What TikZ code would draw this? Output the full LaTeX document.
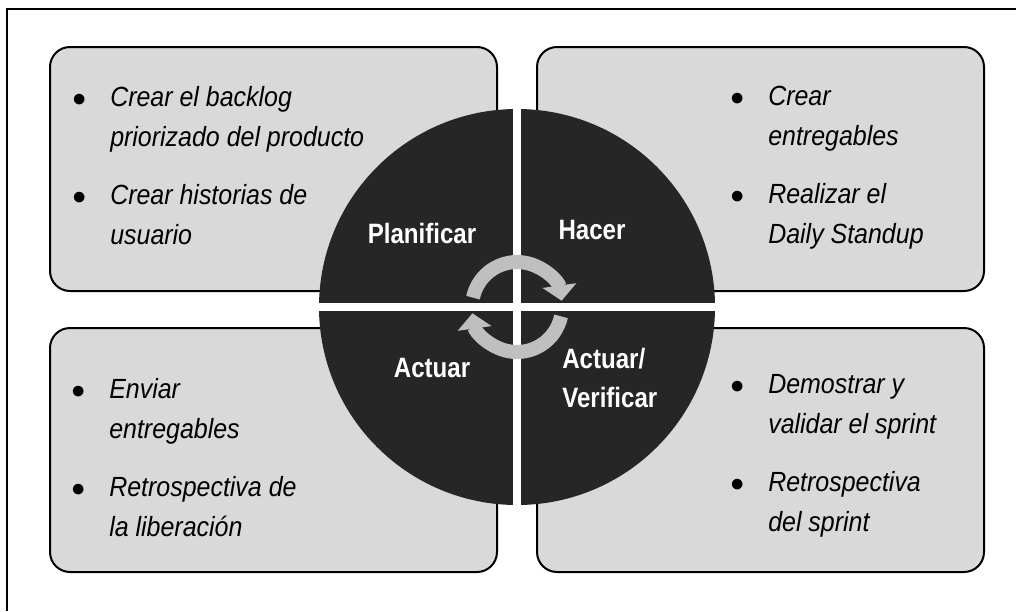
\documentclass[tikz,border=0pt]{standalone}
\usepackage{fontspec}
\setmainfont{Liberation Sans}
\newfontfamily\listfont[FakeStretch=0.9]{Liberation Sans}
\newfontfamily\quadfont[FakeStretch=0.86]{Liberation Sans}
\usetikzlibrary{positioning,arrows.meta}

\definecolor{panelgray}{HTML}{D9D9D9}
\definecolor{wheeldark}{HTML}{262626}
\definecolor{ringgray}{HTML}{BFBFBF}

\newcommand{\punto}{$\bullet$}

\begin{document}
\begin{tikzpicture}[x=0.75pt, y=-0.75pt]

\tikzstyle{panel}=[rectangle, rounded corners=15pt, draw=black, line width=1.5pt, fill=panelgray, minimum width=335.25pt, minimum height=183pt, inner sep=0pt, outer sep=0pt]
\tikzstyle{wheel}=[circle, fill=wheeldark, minimum size=297pt, inner sep=0pt, outer sep=0pt]
\tikzstyle{cut}=[draw=white, line width=6pt]
\tikzstyle{cyclearrow}=[draw=ringgray, line width=10.5pt, -{Triangle[width=25pt, length=11.5pt]}]
\tikzstyle{quad}=[text=white, anchor=base, inner sep=0pt, font=\quadfont\bfseries\fontsize{21pt}{29.25pt}\selectfont]
\tikzstyle{lista}=[anchor=base west, inner sep=0pt, font=\listfont\itshape\fontsize{20.8pt}{30pt}\selectfont]

\useasboundingbox (0,0) rectangle (1016,611);
\draw[line width=1.5pt] (1016,9) -- (7,9) -- (7,611);

% four panels
\node[panel] (plan) at (273.5,169) {};
\node[panel, right=30pt of plan] (hacer) {};
\node[panel, below=27.75pt of plan] (actuar) {};
\node[panel, below=27.75pt of hacer] (verif) {};

% wheel in the middle
\node[wheel] (rueda) at (517,307) {};
\draw[cut] (rueda.west) -- (rueda.east);
\draw[cut] (rueda.north) -- (rueda.south);

\draw[cyclearrow] ([shift={(168:33.75pt)}]rueda.center) arc[start angle=168, end angle=8, radius=33.75pt];
\draw[cyclearrow] ([shift={(-12:33.75pt)}]rueda.center) arc[start angle=-12, end angle=-172, radius=33.75pt];

\node[quad] (planlbl) at (422,243) {Planificar};
\node[quad] (hacerlbl) at (592,239) {Hacer};
\node[quad] (actuarlbl) at (432,377) {Actuar};
\node[quad, anchor=base west] (veriflbl) at (562,368) {\begin{tabular}[t]{@{}l@{}}Actuar/\\Verificar\end{tabular}};

% lists
\node[lista] (plantxt) at (72,106) {\begin{tabular}[t]{@{}p{28.5pt}@{}l@{}}
\punto & Crear el backlog\\
 & priorizado del producto\\[14pt]
\punto & Crear historias de\\
 & usuario
\end{tabular}};

\node[lista] (hacertxt) at (730,105) {\begin{tabular}[t]{@{}p{28.5pt}@{}l@{}}
\punto & Crear\\
 & entregables\\[14pt]
\punto & Realizar el\\
 & Daily Standup
\end{tabular}};

\node[lista] (actuartxt) at (71,398) {\begin{tabular}[t]{@{}p{28.5pt}@{}l@{}}
\punto & Enviar\\
 & entregables\\[14pt]
\punto & Retrospectiva de\\
 & la liberación
\end{tabular}};

\node[lista] (veriftxt) at (730,393) {\begin{tabular}[t]{@{}p{28.5pt}@{}l@{}}
\punto & Demostrar y\\
 & validar el sprint\\[14pt]
\punto & Retrospectiva\\
 & del sprint
\end{tabular}};

\end{tikzpicture}
\end{document}
